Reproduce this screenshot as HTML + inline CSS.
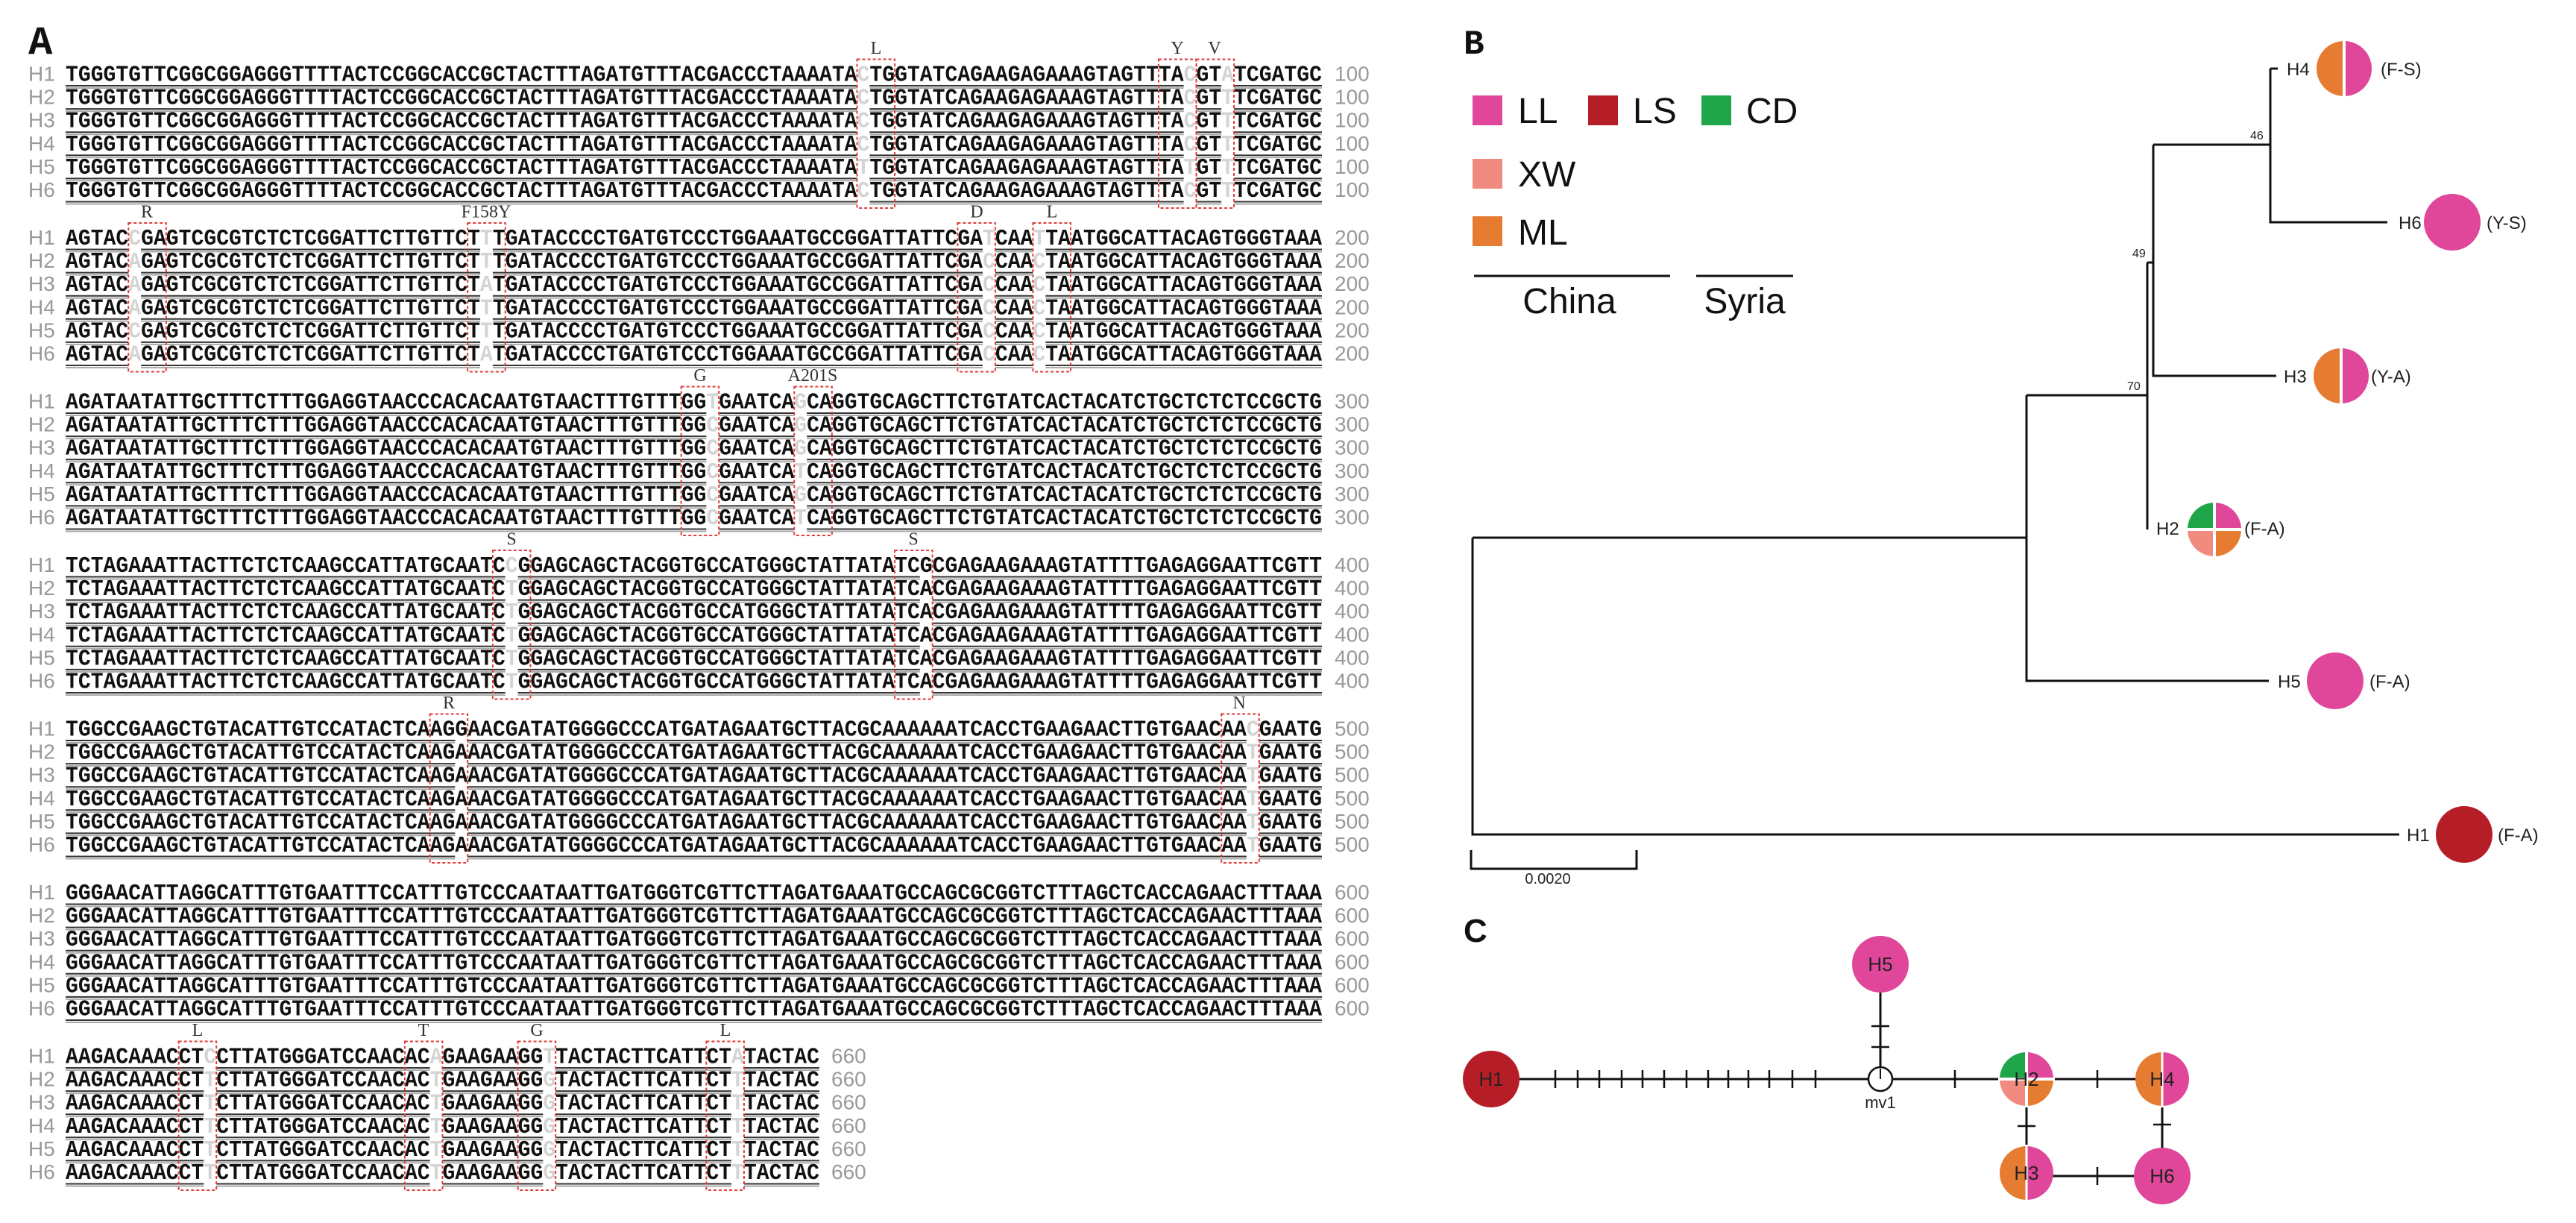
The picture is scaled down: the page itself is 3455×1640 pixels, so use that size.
<!DOCTYPE html>
<html><head><meta charset="utf-8"><style>
html,body{margin:0;padding:0;background:#fff;}
svg{display:block;}
.seq{font-family:"Liberation Mono",monospace;font-weight:bold;font-size:31px;fill:#111;}
.f{fill:#d4d4d4;}
.hl{font-family:"Liberation Sans",sans-serif;font-size:28px;fill:#999;}
.num{font-family:"Liberation Sans",sans-serif;font-size:28px;fill:#999;}
.aa{font-family:"Liberation Serif",serif;font-size:24px;fill:#333;}
.ul1{stroke:#333;stroke-width:2;}
.ul2{stroke:#aaa;stroke-width:2;}
.bx{fill:none;stroke:#e23a3a;stroke-width:2;stroke-dasharray:4 3;}
.tl{font-family:"Liberation Sans",sans-serif;font-size:24px;fill:#222;}
.lg{font-family:"Liberation Sans",sans-serif;font-size:48px;fill:#111;}
.tr{stroke:#111;stroke-width:3;fill:none;}
</style></head><body>
<svg width="3455" height="1640" viewBox="0 0 3455 1640" xmlns="http://www.w3.org/2000/svg">
<text x="38" y="72" font-family="Liberation Mono,monospace" font-weight="bold" font-size="54" fill="#111">A</text>

<!-- BLOCK 1 -->
<g transform="translate(0,0)">
<text class="aa" x="1175" y="72" text-anchor="middle">L</text>
<text class="aa" x="1579" y="72" text-anchor="middle">Y</text>
<text class="aa" x="1629" y="72" text-anchor="middle">V</text>
<g class="hl"><text x="38" y="108.5">H1</text><text x="38" y="139.6">H2</text><text x="38" y="170.7">H3</text><text x="38" y="201.8">H4</text><text x="38" y="232.9">H5</text><text x="38" y="264">H6</text></g>
<g class="num"><text x="1790" y="108.5">100</text><text x="1790" y="139.6">100</text><text x="1790" y="170.7">100</text><text x="1790" y="201.8">100</text><text x="1790" y="232.9">100</text><text x="1790" y="264">100</text></g>
<text class="seq" x="88" y="108.5" textLength="1685" lengthAdjust="spacingAndGlyphs">TGGGTGTTCGGCGGAGGGTTTTACTCCGGCACCGCTACTTTAGATGTTTACGACCCTAAAATA<tspan class="f">C</tspan>TGGTATCAGAAGAGAAAGTAGTTTA<tspan class="f">C</tspan>GT<tspan class="f">A</tspan>TCGATGC</text>
<text class="seq" x="88" y="139.6" textLength="1685" lengthAdjust="spacingAndGlyphs">TGGGTGTTCGGCGGAGGGTTTTACTCCGGCACCGCTACTTTAGATGTTTACGACCCTAAAATA<tspan class="f">C</tspan>TGGTATCAGAAGAGAAAGTAGTTTA<tspan class="f">C</tspan>GT<tspan class="f">T</tspan>TCGATGC</text>
<text class="seq" x="88" y="170.7" textLength="1685" lengthAdjust="spacingAndGlyphs">TGGGTGTTCGGCGGAGGGTTTTACTCCGGCACCGCTACTTTAGATGTTTACGACCCTAAAATA<tspan class="f">C</tspan>TGGTATCAGAAGAGAAAGTAGTTTA<tspan class="f">C</tspan>GT<tspan class="f">T</tspan>TCGATGC</text>
<text class="seq" x="88" y="201.8" textLength="1685" lengthAdjust="spacingAndGlyphs">TGGGTGTTCGGCGGAGGGTTTTACTCCGGCACCGCTACTTTAGATGTTTACGACCCTAAAATA<tspan class="f">C</tspan>TGGTATCAGAAGAGAAAGTAGTTTA<tspan class="f">C</tspan>GT<tspan class="f">T</tspan>TCGATGC</text>
<text class="seq" x="88" y="232.9" textLength="1685" lengthAdjust="spacingAndGlyphs">TGGGTGTTCGGCGGAGGGTTTTACTCCGGCACCGCTACTTTAGATGTTTACGACCCTAAAATA<tspan class="f">T</tspan>TGGTATCAGAAGAGAAAGTAGTTTA<tspan class="f">T</tspan>GT<tspan class="f">T</tspan>TCGATGC</text>
<text class="seq" x="88" y="264" textLength="1685" lengthAdjust="spacingAndGlyphs">TGGGTGTTCGGCGGAGGGTTTTACTCCGGCACCGCTACTTTAGATGTTTACGACCCTAAAATA<tspan class="f">C</tspan>TGGTATCAGAAGAGAAAGTAGTTTA<tspan class="f">C</tspan>GT<tspan class="f">T</tspan>TCGATGC</text>
<g transform="translate(88,0) scale(16.85,1)">
<g class="ul1"><path vector-effect="non-scaling-stroke" d="M0 115H63M64 115H89M90 115H92M93 115H100 M0 146.1H63M64 146.1H89M90 146.1H92M93 146.1H100 M0 177.2H63M64 177.2H89M90 177.2H92M93 177.2H100 M0 208.3H63M64 208.3H89M90 208.3H92M93 208.3H100 M0 239.4H63M64 239.4H89M90 239.4H92M93 239.4H100 M0 270.5H63M64 270.5H89M90 270.5H92M93 270.5H100"/></g>
<g class="ul2"><path vector-effect="non-scaling-stroke" d="M0 118H63M64 118H89M90 118H92M93 118H100 M0 149.1H63M64 149.1H89M90 149.1H92M93 149.1H100 M0 180.2H63M64 180.2H89M90 180.2H92M93 180.2H100 M0 211.3H63M64 211.3H89M90 211.3H92M93 211.3H100 M0 242.4H63M64 242.4H89M90 242.4H92M93 242.4H100 M0 273.5H63M64 273.5H89M90 273.5H92M93 273.5H100"/></g>
<rect class="bx" vector-effect="non-scaling-stroke" x="63" y="79.5" width="3" height="199.5"/>
<rect class="bx" vector-effect="non-scaling-stroke" x="87" y="79.5" width="3" height="199.5"/>
<rect class="bx" vector-effect="non-scaling-stroke" x="90" y="79.5" width="3" height="199.5"/>
</g>
</g>

<!-- BLOCK 2 -->
<g transform="translate(0,219.5)">
<text class="aa" x="197" y="72" text-anchor="middle">R</text>
<text class="aa" x="652" y="72" text-anchor="middle">F158Y</text>
<text class="aa" x="1310" y="72" text-anchor="middle">D</text>
<text class="aa" x="1411" y="72" text-anchor="middle">L</text>
<g class="hl"><text x="38" y="108.5">H1</text><text x="38" y="139.6">H2</text><text x="38" y="170.7">H3</text><text x="38" y="201.8">H4</text><text x="38" y="232.9">H5</text><text x="38" y="264">H6</text></g>
<g class="num"><text x="1790" y="108.5">200</text><text x="1790" y="139.6">200</text><text x="1790" y="170.7">200</text><text x="1790" y="201.8">200</text><text x="1790" y="232.9">200</text><text x="1790" y="264">200</text></g>
<text class="seq" x="88" y="108.5" textLength="1685" lengthAdjust="spacingAndGlyphs">AGTAC<tspan class="f">C</tspan>GAGTCGCGTCTCTCGGATTCTTGTTCT<tspan class="f">T</tspan>TGATACCCCTGATGTCCCTGGAAATGCCGGATTATTCGA<tspan class="f">T</tspan>CAA<tspan class="f">T</tspan>TAATGGCATTACAGTGGGTAAA</text>
<text class="seq" x="88" y="139.6" textLength="1685" lengthAdjust="spacingAndGlyphs">AGTAC<tspan class="f">A</tspan>GAGTCGCGTCTCTCGGATTCTTGTTCT<tspan class="f">T</tspan>TGATACCCCTGATGTCCCTGGAAATGCCGGATTATTCGA<tspan class="f">C</tspan>CAA<tspan class="f">C</tspan>TAATGGCATTACAGTGGGTAAA</text>
<text class="seq" x="88" y="170.7" textLength="1685" lengthAdjust="spacingAndGlyphs">AGTAC<tspan class="f">A</tspan>GAGTCGCGTCTCTCGGATTCTTGTTCT<tspan class="f">A</tspan>TGATACCCCTGATGTCCCTGGAAATGCCGGATTATTCGA<tspan class="f">C</tspan>CAA<tspan class="f">C</tspan>TAATGGCATTACAGTGGGTAAA</text>
<text class="seq" x="88" y="201.8" textLength="1685" lengthAdjust="spacingAndGlyphs">AGTAC<tspan class="f">A</tspan>GAGTCGCGTCTCTCGGATTCTTGTTCT<tspan class="f">T</tspan>TGATACCCCTGATGTCCCTGGAAATGCCGGATTATTCGA<tspan class="f">C</tspan>CAA<tspan class="f">C</tspan>TAATGGCATTACAGTGGGTAAA</text>
<text class="seq" x="88" y="232.9" textLength="1685" lengthAdjust="spacingAndGlyphs">AGTAC<tspan class="f">C</tspan>GAGTCGCGTCTCTCGGATTCTTGTTCT<tspan class="f">T</tspan>TGATACCCCTGATGTCCCTGGAAATGCCGGATTATTCGA<tspan class="f">C</tspan>CAA<tspan class="f">C</tspan>TAATGGCATTACAGTGGGTAAA</text>
<text class="seq" x="88" y="264" textLength="1685" lengthAdjust="spacingAndGlyphs">AGTAC<tspan class="f">A</tspan>GAGTCGCGTCTCTCGGATTCTTGTTCT<tspan class="f">A</tspan>TGATACCCCTGATGTCCCTGGAAATGCCGGATTATTCGA<tspan class="f">C</tspan>CAA<tspan class="f">C</tspan>TAATGGCATTACAGTGGGTAAA</text>
<g transform="translate(88,0) scale(16.85,1)">
<g class="ul1"><path vector-effect="non-scaling-stroke" d="M0 115H5M6 115H33M34 115H73M74 115H77M78 115H100 M0 146.1H5M6 146.1H33M34 146.1H73M74 146.1H77M78 146.1H100 M0 177.2H5M6 177.2H33M34 177.2H73M74 177.2H77M78 177.2H100 M0 208.3H5M6 208.3H33M34 208.3H73M74 208.3H77M78 208.3H100 M0 239.4H5M6 239.4H33M34 239.4H73M74 239.4H77M78 239.4H100 M0 270.5H5M6 270.5H33M34 270.5H73M74 270.5H77M78 270.5H100"/></g>
<g class="ul2"><path vector-effect="non-scaling-stroke" d="M0 118H5M6 118H33M34 118H73M74 118H77M78 118H100 M0 149.1H5M6 149.1H33M34 149.1H73M74 149.1H77M78 149.1H100 M0 180.2H5M6 180.2H33M34 180.2H73M74 180.2H77M78 180.2H100 M0 211.3H5M6 211.3H33M34 211.3H73M74 211.3H77M78 211.3H100 M0 242.4H5M6 242.4H33M34 242.4H73M74 242.4H77M78 242.4H100 M0 273.5H5M6 273.5H33M34 273.5H73M74 273.5H77M78 273.5H100"/></g>
<rect class="bx" vector-effect="non-scaling-stroke" x="5" y="79.5" width="3" height="199.5"/>
<rect class="bx" vector-effect="non-scaling-stroke" x="32" y="79.5" width="3" height="199.5"/>
<rect class="bx" vector-effect="non-scaling-stroke" x="71" y="79.5" width="3" height="199.5"/>
<rect class="bx" vector-effect="non-scaling-stroke" x="77" y="79.5" width="3" height="199.5"/>
</g>
</g>

<!-- BLOCK 3 -->
<g transform="translate(0,439)">
<text class="aa" x="939" y="72" text-anchor="middle">G</text>
<text class="aa" x="1090" y="72" text-anchor="middle">A201S</text>
<g class="hl"><text x="38" y="108.5">H1</text><text x="38" y="139.6">H2</text><text x="38" y="170.7">H3</text><text x="38" y="201.8">H4</text><text x="38" y="232.9">H5</text><text x="38" y="264">H6</text></g>
<g class="num"><text x="1790" y="108.5">300</text><text x="1790" y="139.6">300</text><text x="1790" y="170.7">300</text><text x="1790" y="201.8">300</text><text x="1790" y="232.9">300</text><text x="1790" y="264">300</text></g>
<text class="seq" x="88" y="108.5" textLength="1685" lengthAdjust="spacingAndGlyphs">AGATAATATTGCTTTCTTTGGAGGTAACCCACACAATGTAACTTTGTTTGG<tspan class="f">T</tspan>GAATCA<tspan class="f">G</tspan>CAGGTGCAGCTTCTGTATCACTACATCTGCTCTCTCCGCTG</text>
<text class="seq" x="88" y="139.6" textLength="1685" lengthAdjust="spacingAndGlyphs">AGATAATATTGCTTTCTTTGGAGGTAACCCACACAATGTAACTTTGTTTGG<tspan class="f">C</tspan>GAATCA<tspan class="f">G</tspan>CAGGTGCAGCTTCTGTATCACTACATCTGCTCTCTCCGCTG</text>
<text class="seq" x="88" y="170.7" textLength="1685" lengthAdjust="spacingAndGlyphs">AGATAATATTGCTTTCTTTGGAGGTAACCCACACAATGTAACTTTGTTTGG<tspan class="f">C</tspan>GAATCA<tspan class="f">G</tspan>CAGGTGCAGCTTCTGTATCACTACATCTGCTCTCTCCGCTG</text>
<text class="seq" x="88" y="201.8" textLength="1685" lengthAdjust="spacingAndGlyphs">AGATAATATTGCTTTCTTTGGAGGTAACCCACACAATGTAACTTTGTTTGG<tspan class="f">C</tspan>GAATCA<tspan class="f">T</tspan>CAGGTGCAGCTTCTGTATCACTACATCTGCTCTCTCCGCTG</text>
<text class="seq" x="88" y="232.9" textLength="1685" lengthAdjust="spacingAndGlyphs">AGATAATATTGCTTTCTTTGGAGGTAACCCACACAATGTAACTTTGTTTGG<tspan class="f">C</tspan>GAATCA<tspan class="f">G</tspan>CAGGTGCAGCTTCTGTATCACTACATCTGCTCTCTCCGCTG</text>
<text class="seq" x="88" y="264" textLength="1685" lengthAdjust="spacingAndGlyphs">AGATAATATTGCTTTCTTTGGAGGTAACCCACACAATGTAACTTTGTTTGG<tspan class="f">C</tspan>GAATCA<tspan class="f">T</tspan>CAGGTGCAGCTTCTGTATCACTACATCTGCTCTCTCCGCTG</text>
<g transform="translate(88,0) scale(16.85,1)">
<g class="ul1"><path vector-effect="non-scaling-stroke" d="M0 115H51M52 115H58M59 115H100 M0 146.1H51M52 146.1H58M59 146.1H100 M0 177.2H51M52 177.2H58M59 177.2H100 M0 208.3H51M52 208.3H58M59 208.3H100 M0 239.4H51M52 239.4H58M59 239.4H100 M0 270.5H51M52 270.5H58M59 270.5H100"/></g>
<g class="ul2"><path vector-effect="non-scaling-stroke" d="M0 118H51M52 118H58M59 118H100 M0 149.1H51M52 149.1H58M59 149.1H100 M0 180.2H51M52 180.2H58M59 180.2H100 M0 211.3H51M52 211.3H58M59 211.3H100 M0 242.4H51M52 242.4H58M59 242.4H100 M0 273.5H51M52 273.5H58M59 273.5H100"/></g>
<rect class="bx" vector-effect="non-scaling-stroke" x="49" y="79.5" width="3" height="199.5"/>
<rect class="bx" vector-effect="non-scaling-stroke" x="58" y="79.5" width="3" height="199.5"/>
</g>
</g>

<!-- BLOCK 4 -->
<g transform="translate(0,658.5)">
<text class="aa" x="686" y="72" text-anchor="middle">S</text>
<text class="aa" x="1225" y="72" text-anchor="middle">S</text>
<g class="hl"><text x="38" y="108.5">H1</text><text x="38" y="139.6">H2</text><text x="38" y="170.7">H3</text><text x="38" y="201.8">H4</text><text x="38" y="232.9">H5</text><text x="38" y="264">H6</text></g>
<g class="num"><text x="1790" y="108.5">400</text><text x="1790" y="139.6">400</text><text x="1790" y="170.7">400</text><text x="1790" y="201.8">400</text><text x="1790" y="232.9">400</text><text x="1790" y="264">400</text></g>
<text class="seq" x="88" y="108.5" textLength="1685" lengthAdjust="spacingAndGlyphs">TCTAGAAATTACTTCTCTCAAGCCATTATGCAATC<tspan class="f">C</tspan>GGAGCAGCTACGGTGCCATGGGCTATTATATCGCGAGAAGAAAGTATTTTGAGAGGAATTCGTT</text>
<text class="seq" x="88" y="139.6" textLength="1685" lengthAdjust="spacingAndGlyphs">TCTAGAAATTACTTCTCTCAAGCCATTATGCAATC<tspan class="f">T</tspan>GGAGCAGCTACGGTGCCATGGGCTATTATATCACGAGAAGAAAGTATTTTGAGAGGAATTCGTT</text>
<text class="seq" x="88" y="170.7" textLength="1685" lengthAdjust="spacingAndGlyphs">TCTAGAAATTACTTCTCTCAAGCCATTATGCAATC<tspan class="f">T</tspan>GGAGCAGCTACGGTGCCATGGGCTATTATATCACGAGAAGAAAGTATTTTGAGAGGAATTCGTT</text>
<text class="seq" x="88" y="201.8" textLength="1685" lengthAdjust="spacingAndGlyphs">TCTAGAAATTACTTCTCTCAAGCCATTATGCAATC<tspan class="f">T</tspan>GGAGCAGCTACGGTGCCATGGGCTATTATATCACGAGAAGAAAGTATTTTGAGAGGAATTCGTT</text>
<text class="seq" x="88" y="232.9" textLength="1685" lengthAdjust="spacingAndGlyphs">TCTAGAAATTACTTCTCTCAAGCCATTATGCAATC<tspan class="f">T</tspan>GGAGCAGCTACGGTGCCATGGGCTATTATATCACGAGAAGAAAGTATTTTGAGAGGAATTCGTT</text>
<text class="seq" x="88" y="264" textLength="1685" lengthAdjust="spacingAndGlyphs">TCTAGAAATTACTTCTCTCAAGCCATTATGCAATC<tspan class="f">T</tspan>GGAGCAGCTACGGTGCCATGGGCTATTATATCACGAGAAGAAAGTATTTTGAGAGGAATTCGTT</text>
<g transform="translate(88,0) scale(16.85,1)">
<g class="ul1"><path vector-effect="non-scaling-stroke" d="M0 115H35M36 115H68M69 115H100 M0 146.1H35M36 146.1H68M69 146.1H100 M0 177.2H35M36 177.2H68M69 177.2H100 M0 208.3H35M36 208.3H68M69 208.3H100 M0 239.4H35M36 239.4H68M69 239.4H100 M0 270.5H35M36 270.5H68M69 270.5H100"/></g>
<g class="ul2"><path vector-effect="non-scaling-stroke" d="M0 118H35M36 118H68M69 118H100 M0 149.1H35M36 149.1H68M69 149.1H100 M0 180.2H35M36 180.2H68M69 180.2H100 M0 211.3H35M36 211.3H68M69 211.3H100 M0 242.4H35M36 242.4H68M69 242.4H100 M0 273.5H35M36 273.5H68M69 273.5H100"/></g>
<rect class="bx" vector-effect="non-scaling-stroke" x="34" y="79.5" width="3" height="199.5"/>
<rect class="bx" vector-effect="non-scaling-stroke" x="66" y="79.5" width="3" height="199.5"/>
</g>
</g>

<!-- BLOCK 5 -->
<g transform="translate(0,878)">
<text class="aa" x="602" y="72" text-anchor="middle">R</text>
<text class="aa" x="1662" y="72" text-anchor="middle">N</text>
<g class="hl"><text x="38" y="108.5">H1</text><text x="38" y="139.6">H2</text><text x="38" y="170.7">H3</text><text x="38" y="201.8">H4</text><text x="38" y="232.9">H5</text><text x="38" y="264">H6</text></g>
<g class="num"><text x="1790" y="108.5">500</text><text x="1790" y="139.6">500</text><text x="1790" y="170.7">500</text><text x="1790" y="201.8">500</text><text x="1790" y="232.9">500</text><text x="1790" y="264">500</text></g>
<text class="seq" x="88" y="108.5" textLength="1685" lengthAdjust="spacingAndGlyphs">TGGCCGAAGCTGTACATTGTCCATACTCAAGGAACGATATGGGGCCCATGATAGAATGCTTACGCAAAAAATCACCTGAAGAACTTGTGAACAA<tspan class="f">C</tspan>GAATG</text>
<text class="seq" x="88" y="139.6" textLength="1685" lengthAdjust="spacingAndGlyphs">TGGCCGAAGCTGTACATTGTCCATACTCAAGAAACGATATGGGGCCCATGATAGAATGCTTACGCAAAAAATCACCTGAAGAACTTGTGAACAA<tspan class="f">T</tspan>GAATG</text>
<text class="seq" x="88" y="170.7" textLength="1685" lengthAdjust="spacingAndGlyphs">TGGCCGAAGCTGTACATTGTCCATACTCAAGAAACGATATGGGGCCCATGATAGAATGCTTACGCAAAAAATCACCTGAAGAACTTGTGAACAA<tspan class="f">T</tspan>GAATG</text>
<text class="seq" x="88" y="201.8" textLength="1685" lengthAdjust="spacingAndGlyphs">TGGCCGAAGCTGTACATTGTCCATACTCAAGAAACGATATGGGGCCCATGATAGAATGCTTACGCAAAAAATCACCTGAAGAACTTGTGAACAA<tspan class="f">T</tspan>GAATG</text>
<text class="seq" x="88" y="232.9" textLength="1685" lengthAdjust="spacingAndGlyphs">TGGCCGAAGCTGTACATTGTCCATACTCAAGAAACGATATGGGGCCCATGATAGAATGCTTACGCAAAAAATCACCTGAAGAACTTGTGAACAA<tspan class="f">T</tspan>GAATG</text>
<text class="seq" x="88" y="264" textLength="1685" lengthAdjust="spacingAndGlyphs">TGGCCGAAGCTGTACATTGTCCATACTCAAGAAACGATATGGGGCCCATGATAGAATGCTTACGCAAAAAATCACCTGAAGAACTTGTGAACAA<tspan class="f">T</tspan>GAATG</text>
<g transform="translate(88,0) scale(16.85,1)">
<g class="ul1"><path vector-effect="non-scaling-stroke" d="M0 115H31M32 115H94M95 115H100 M0 146.1H31M32 146.1H94M95 146.1H100 M0 177.2H31M32 177.2H94M95 177.2H100 M0 208.3H31M32 208.3H94M95 208.3H100 M0 239.4H31M32 239.4H94M95 239.4H100 M0 270.5H31M32 270.5H94M95 270.5H100"/></g>
<g class="ul2"><path vector-effect="non-scaling-stroke" d="M0 118H31M32 118H94M95 118H100 M0 149.1H31M32 149.1H94M95 149.1H100 M0 180.2H31M32 180.2H94M95 180.2H100 M0 211.3H31M32 211.3H94M95 211.3H100 M0 242.4H31M32 242.4H94M95 242.4H100 M0 273.5H31M32 273.5H94M95 273.5H100"/></g>
<rect class="bx" vector-effect="non-scaling-stroke" x="29" y="79.5" width="3" height="199.5"/>
<rect class="bx" vector-effect="non-scaling-stroke" x="92" y="79.5" width="3" height="199.5"/>
</g>
</g>

<!-- BLOCK 6 -->
<g transform="translate(0,1097.5)">
<g class="hl"><text x="38" y="108.5">H1</text><text x="38" y="139.6">H2</text><text x="38" y="170.7">H3</text><text x="38" y="201.8">H4</text><text x="38" y="232.9">H5</text><text x="38" y="264">H6</text></g>
<g class="num"><text x="1790" y="108.5">600</text><text x="1790" y="139.6">600</text><text x="1790" y="170.7">600</text><text x="1790" y="201.8">600</text><text x="1790" y="232.9">600</text><text x="1790" y="264">600</text></g>
<text class="seq" x="88" y="108.5" textLength="1685" lengthAdjust="spacingAndGlyphs">GGGAACATTAGGCATTTGTGAATTTCCATTTGTCCCAATAATTGATGGGTCGTTCTTAGATGAAATGCCAGCGCGGTCTTTAGCTCACCAGAACTTTAAA</text>
<text class="seq" x="88" y="139.6" textLength="1685" lengthAdjust="spacingAndGlyphs">GGGAACATTAGGCATTTGTGAATTTCCATTTGTCCCAATAATTGATGGGTCGTTCTTAGATGAAATGCCAGCGCGGTCTTTAGCTCACCAGAACTTTAAA</text>
<text class="seq" x="88" y="170.7" textLength="1685" lengthAdjust="spacingAndGlyphs">GGGAACATTAGGCATTTGTGAATTTCCATTTGTCCCAATAATTGATGGGTCGTTCTTAGATGAAATGCCAGCGCGGTCTTTAGCTCACCAGAACTTTAAA</text>
<text class="seq" x="88" y="201.8" textLength="1685" lengthAdjust="spacingAndGlyphs">GGGAACATTAGGCATTTGTGAATTTCCATTTGTCCCAATAATTGATGGGTCGTTCTTAGATGAAATGCCAGCGCGGTCTTTAGCTCACCAGAACTTTAAA</text>
<text class="seq" x="88" y="232.9" textLength="1685" lengthAdjust="spacingAndGlyphs">GGGAACATTAGGCATTTGTGAATTTCCATTTGTCCCAATAATTGATGGGTCGTTCTTAGATGAAATGCCAGCGCGGTCTTTAGCTCACCAGAACTTTAAA</text>
<text class="seq" x="88" y="264" textLength="1685" lengthAdjust="spacingAndGlyphs">GGGAACATTAGGCATTTGTGAATTTCCATTTGTCCCAATAATTGATGGGTCGTTCTTAGATGAAATGCCAGCGCGGTCTTTAGCTCACCAGAACTTTAAA</text>
<g class="ul1"><path d="M88 115H1773M88 146.1H1773M88 177.2H1773M88 208.3H1773M88 239.4H1773M88 270.5H1773"/></g>
<g class="ul2"><path d="M88 118H1773M88 149.1H1773M88 180.2H1773M88 211.3H1773M88 242.4H1773M88 273.5H1773"/></g>
</g>

<!-- BLOCK 7 -->
<g transform="translate(0,1317)">
<text class="aa" x="265" y="72" text-anchor="middle">L</text>
<text class="aa" x="568" y="72" text-anchor="middle">T</text>
<text class="aa" x="720" y="72" text-anchor="middle">G</text>
<text class="aa" x="973" y="72" text-anchor="middle">L</text>
<g class="hl"><text x="38" y="108.5">H1</text><text x="38" y="139.6">H2</text><text x="38" y="170.7">H3</text><text x="38" y="201.8">H4</text><text x="38" y="232.9">H5</text><text x="38" y="264">H6</text></g>
<g class="num"><text x="1115" y="108.5">660</text><text x="1115" y="139.6">660</text><text x="1115" y="170.7">660</text><text x="1115" y="201.8">660</text><text x="1115" y="232.9">660</text><text x="1115" y="264">660</text></g>
<text class="seq" x="88" y="108.5" textLength="1011" lengthAdjust="spacingAndGlyphs">AAGACAAACCT<tspan class="f">C</tspan>CTTATGGGATCCAACAC<tspan class="f">A</tspan>GAAGAAGG<tspan class="f">T</tspan>TACTACTTCATTCT<tspan class="f">A</tspan>TACTAC</text>
<text class="seq" x="88" y="139.6" textLength="1011" lengthAdjust="spacingAndGlyphs">AAGACAAACCT<tspan class="f">T</tspan>CTTATGGGATCCAACAC<tspan class="f">T</tspan>GAAGAAGG<tspan class="f">G</tspan>TACTACTTCATTCT<tspan class="f">T</tspan>TACTAC</text>
<text class="seq" x="88" y="170.7" textLength="1011" lengthAdjust="spacingAndGlyphs">AAGACAAACCT<tspan class="f">T</tspan>CTTATGGGATCCAACAC<tspan class="f">T</tspan>GAAGAAGG<tspan class="f">G</tspan>TACTACTTCATTCT<tspan class="f">T</tspan>TACTAC</text>
<text class="seq" x="88" y="201.8" textLength="1011" lengthAdjust="spacingAndGlyphs">AAGACAAACCT<tspan class="f">T</tspan>CTTATGGGATCCAACAC<tspan class="f">T</tspan>GAAGAAGG<tspan class="f">G</tspan>TACTACTTCATTCT<tspan class="f">T</tspan>TACTAC</text>
<text class="seq" x="88" y="232.9" textLength="1011" lengthAdjust="spacingAndGlyphs">AAGACAAACCT<tspan class="f">T</tspan>CTTATGGGATCCAACAC<tspan class="f">T</tspan>GAAGAAGG<tspan class="f">G</tspan>TACTACTTCATTCT<tspan class="f">T</tspan>TACTAC</text>
<text class="seq" x="88" y="264" textLength="1011" lengthAdjust="spacingAndGlyphs">AAGACAAACCT<tspan class="f">T</tspan>CTTATGGGATCCAACAC<tspan class="f">T</tspan>GAAGAAGG<tspan class="f">G</tspan>TACTACTTCATTCT<tspan class="f">T</tspan>TACTAC</text>
<g transform="translate(88,0) scale(16.85,1)">
<g class="ul1"><path vector-effect="non-scaling-stroke" d="M0 115H11M12 115H29M30 115H38M39 115H53M54 115H60 M0 146.1H11M12 146.1H29M30 146.1H38M39 146.1H53M54 146.1H60 M0 177.2H11M12 177.2H29M30 177.2H38M39 177.2H53M54 177.2H60 M0 208.3H11M12 208.3H29M30 208.3H38M39 208.3H53M54 208.3H60 M0 239.4H11M12 239.4H29M30 239.4H38M39 239.4H53M54 239.4H60 M0 270.5H11M12 270.5H29M30 270.5H38M39 270.5H53M54 270.5H60"/></g>
<g class="ul2"><path vector-effect="non-scaling-stroke" d="M0 118H11M12 118H29M30 118H38M39 118H53M54 118H60 M0 149.1H11M12 149.1H29M30 149.1H38M39 149.1H53M54 149.1H60 M0 180.2H11M12 180.2H29M30 180.2H38M39 180.2H53M54 180.2H60 M0 211.3H11M12 211.3H29M30 211.3H38M39 211.3H53M54 211.3H60 M0 242.4H11M12 242.4H29M30 242.4H38M39 242.4H53M54 242.4H60 M0 273.5H11M12 273.5H29M30 273.5H38M39 273.5H53M54 273.5H60"/></g>
<rect class="bx" vector-effect="non-scaling-stroke" x="9" y="79.5" width="3" height="199.5"/>
<rect class="bx" vector-effect="non-scaling-stroke" x="27" y="79.5" width="3" height="199.5"/>
<rect class="bx" vector-effect="non-scaling-stroke" x="36" y="79.5" width="3" height="199.5"/>
<rect class="bx" vector-effect="non-scaling-stroke" x="51" y="79.5" width="3" height="199.5"/>
</g>
</g>

<!-- PANEL B -->
<text x="1963" y="72" font-family="Liberation Mono,monospace" font-weight="bold" font-size="46" fill="#111">B</text>
<rect x="1975" y="128" width="40" height="40" fill="#e0479a"/><text class="lg" x="2036" y="165">LL</text>
<rect x="2130" y="128" width="40" height="40" fill="#b51d27"/><text class="lg" x="2190" y="165">LS</text>
<rect x="2282" y="128" width="40" height="40" fill="#1fa64b"/><text class="lg" x="2342" y="165">CD</text>
<rect x="1975" y="213" width="40" height="40" fill="#f28b7f"/><text class="lg" x="2036" y="250">XW</text>
<rect x="1975" y="290" width="40" height="40" fill="#e67c32"/><text class="lg" x="2036" y="328">ML</text>
<line x1="1977" y1="370" x2="2240" y2="370" stroke="#111" stroke-width="3"/>
<line x1="2275" y1="370" x2="2405" y2="370" stroke="#111" stroke-width="3"/>
<text class="lg" x="2105" y="420" text-anchor="middle">China</text>
<text class="lg" x="2340" y="420" text-anchor="middle">Syria</text>

<path class="tr" d="M1975 721V1119H3218 M1975 721H2718 M2718 530V913H3043 M2718 530H2880 M2880 352V710 M2880 352H2888 M2888 194V504H3053 M2888 194H3045 M3045 92V298H3202 M3045 92H3055"/>
<g font-family="Liberation Sans,sans-serif" font-size="16" fill="#222">
<text x="3018" y="187">46</text><text x="2860" y="345">49</text><text x="2853" y="523">70</text>
</g>
<g class="tl">
<text x="3067" y="101">H4</text><text x="3193" y="101">(F-S)</text>
<text x="3217" y="307">H6</text><text x="3335" y="307">(Y-S)</text>
<text x="3063" y="513">H3</text><text x="3180" y="513">(Y-A)</text>
<text x="2892" y="717">H2</text><text x="3010" y="717">(F-A)</text>
<text x="3055" y="922">H5</text><text x="3178" y="922">(F-A)</text>
<text x="3228" y="1128">H1</text><text x="3350" y="1128">(F-A)</text>
</g>
<path d="M3144 55A37 37 0 0 0 3144 129Z" fill="#e67c32"/><path d="M3144 55A37 37 0 0 1 3144 129Z" fill="#e0479a"/><line x1="3144" y1="53" x2="3144" y2="131" stroke="#fff" stroke-width="4"/>
<circle cx="3289" cy="298" r="38" fill="#e0479a"/>
<path d="M3140 467A37 37 0 0 0 3140 541Z" fill="#e67c32"/><path d="M3140 467A37 37 0 0 1 3140 541Z" fill="#e0479a"/><line x1="3140" y1="465" x2="3140" y2="543" stroke="#fff" stroke-width="4"/>
<g transform="translate(2970,710)">
<path d="M0 0V-36A36 36 0 0 0 -36 0Z" fill="#1fa64b"/><path d="M0 0V-36A36 36 0 0 1 36 0Z" fill="#e0479a"/>
<path d="M0 0H-36A36 36 0 0 0 0 36Z" fill="#f28b7f"/><path d="M0 0H36A36 36 0 0 1 0 36Z" fill="#e67c32"/>
<path d="M0 -38V38M-38 0H38" stroke="#fff" stroke-width="4"/></g>
<circle cx="3132" cy="913" r="38" fill="#e0479a"/>
<circle cx="3305" cy="1119" r="38" fill="#b51d27"/>
<path d="M1973 1140V1165H2195V1140" stroke="#111" stroke-width="3" fill="none"/>
<text x="2076" y="1185" text-anchor="middle" font-family="Liberation Sans,sans-serif" font-size="20" fill="#222">0.0020</text>

<!-- PANEL C -->
<text x="1963" y="1263" font-family="Liberation Sans,sans-serif" font-weight="bold" font-size="44" fill="#111">C</text>
<g stroke="#111" stroke-width="3">
<line x1="2000" y1="1447" x2="2900" y2="1447"/>
<line x1="2522" y1="1293" x2="2522" y2="1447"/>
<line x1="2718" y1="1447" x2="2718" y2="1575"/>
<line x1="2900" y1="1447" x2="2900" y2="1575"/>
<line x1="2718" y1="1577" x2="2900" y2="1577"/>
</g>
<g stroke="#111" stroke-width="2.5">
<path d="M2086 1435V1459M2116 1435V1459M2145 1435V1459M2175 1435V1459M2203 1435V1459M2232 1435V1459M2262 1435V1459M2291 1435V1459M2318 1435V1459M2345 1435V1459M2373 1435V1459M2404 1435V1459M2435 1435V1459"/>
<path d="M2622 1435V1459M2813 1435V1459M2813 1565V1589M2510 1376H2534M2510 1404H2534M2706 1510H2730M2888 1508H2912"/>
</g>
<circle cx="2000" cy="1447" r="38" fill="#b51d27"/>
<circle cx="2522" cy="1293" r="38" fill="#e0479a"/>
<circle cx="2522" cy="1447" r="16" fill="#fff" stroke="#111" stroke-width="2.5"/>
<line x1="2522" y1="1433" x2="2522" y2="1447" stroke="#111" stroke-width="2"/>
<g transform="translate(2718,1447)">
<path d="M0 0V-36A36 36 0 0 0 -36 0Z" fill="#1fa64b"/><path d="M0 0V-36A36 36 0 0 1 36 0Z" fill="#e0479a"/>
<path d="M0 0H-36A36 36 0 0 0 0 36Z" fill="#f28b7f"/><path d="M0 0H36A36 36 0 0 1 0 36Z" fill="#e67c32"/>
<path d="M0 -38V38M-38 0H38" stroke="#fff" stroke-width="4"/></g>
<path d="M2900 1411A36 36 0 0 0 2900 1483Z" fill="#e67c32"/><path d="M2900 1411A36 36 0 0 1 2900 1483Z" fill="#e0479a"/><line x1="2900" y1="1409" x2="2900" y2="1485" stroke="#fff" stroke-width="3"/>
<path d="M2718 1537A36 36 0 0 0 2718 1609Z" fill="#e67c32"/><path d="M2718 1537A36 36 0 0 1 2718 1609Z" fill="#e0479a"/><line x1="2718" y1="1535" x2="2718" y2="1611" stroke="#fff" stroke-width="3"/>
<circle cx="2900" cy="1577" r="38" fill="#e0479a"/>
<g font-family="Liberation Sans,sans-serif" font-size="26" fill="#222" text-anchor="middle">
<text x="2000" y="1456">H1</text><text x="2522" y="1302">H5</text><text x="2718" y="1456">H2</text>
<text x="2900" y="1456">H4</text><text x="2718" y="1582">H3</text><text x="2900" y="1586">H6</text>
<text x="2522" y="1486" font-size="22">mv1</text>
</g>
</svg>
</body></html>
